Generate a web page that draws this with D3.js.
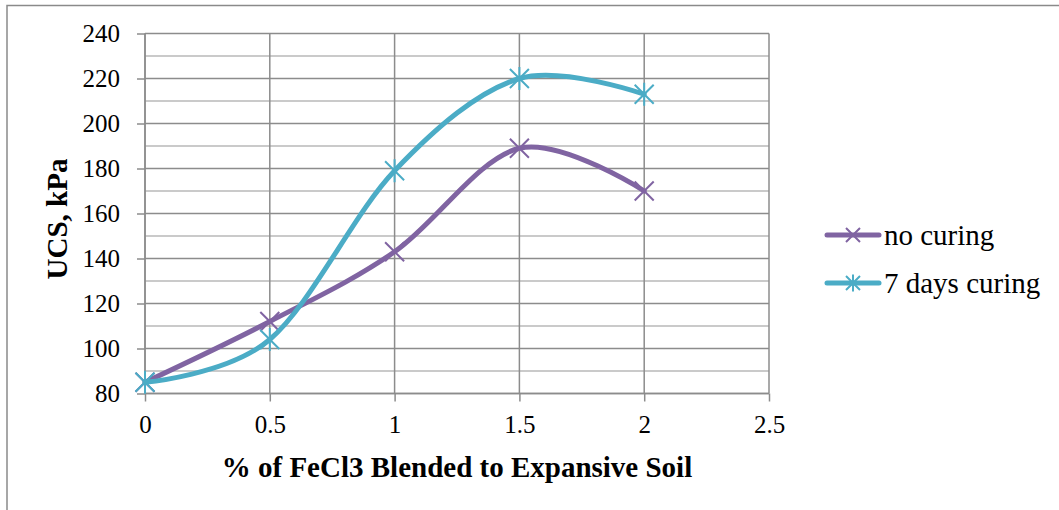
<!DOCTYPE html>
<html>
<head>
<meta charset="utf-8">
<script src="https://cdn.jsdelivr.net/npm/d3@7"></script>
<style>
  html, body { margin: 0; padding: 0; background: #fff; }
  svg { display: block; font-family: "Liberation Serif", "Times New Roman", serif; }
</style>
</head>
<body>
<svg id="chart" width="1059" height="510"></svg>
<script>
// FeCl3 content (%) and unconfined compressive strength (kPa)
const fecl3 = [0, 0.5, 1, 1.5, 2];
const noCuring = [85, 112, 143, 189, 170];
const sevenDays = [85, 104, 179, 220, 213];
const seriesNames = ["no curing", "7 days curing"];
const seriesColors = ["#8064A2", "#4BACC6"];
const xTicks = [0, 0.5, 1, 1.5, 2, 2.5];
const yTicks = [80, 100, 120, 140, 160, 180, 200, 220, 240];
const yMinor = [90, 110, 130, 150, 170, 190, 210, 230];

const serif = "'Liberation Serif', 'Times New Roman', serif";
const svg = d3.select("#chart");
const x = d3.scaleLinear().domain([0, 2.5]).range([145, 769]);
const y = d3.scaleLinear().domain([80, 240]).range([393.5, 33.5]);

// outer chart frame (left and top edges)
svg.append("path")
  .attr("d", "M7,512 L7,5.5 L1062,5.5")
  .attr("fill", "none").attr("stroke", "#8a8a8a").attr("stroke-width", 1.5);

// minor horizontal gridlines
svg.append("g").selectAll("line").data(yMinor).join("line")
  .attr("x1", x(0)).attr("x2", x(2.5))
  .attr("y1", d => y(d)).attr("y2", d => y(d))
  .attr("stroke", "#b8b8b8").attr("stroke-width", 1.5);

// major horizontal gridlines
svg.append("g").selectAll("line").data(yTicks).join("line")
  .attr("x1", x(0)).attr("x2", x(2.5))
  .attr("y1", d => y(d)).attr("y2", d => y(d))
  .attr("stroke", "#8c8c8c").attr("stroke-width", 1.5);

// vertical gridlines
svg.append("g").selectAll("line").data(xTicks).join("line")
  .attr("x1", d => x(d)).attr("x2", d => x(d))
  .attr("y1", y(240)).attr("y2", y(80))
  .attr("stroke", "#8c8c8c").attr("stroke-width", 1.5);

// axes
const yAxis = d3.axisLeft(y).tickValues(yTicks).tickSize(8).tickPadding(17).tickFormat(d3.format("d"));
const xAxis = d3.axisBottom(x).tickValues(xTicks).tickSize(8).tickPadding(14).tickFormat(d => String(d));

const gy = svg.append("g").attr("transform", `translate(${x(0)},0)`).call(yAxis);
const gx = svg.append("g").attr("transform", `translate(0,${y(80)})`).call(xAxis);
[gy, gx].forEach(g => {
  g.attr("font-family", serif).attr("font-size", 25);
  g.select(".domain").attr("stroke", "#8c8c8c").attr("stroke-width", 1.5);
  g.selectAll(".tick line").attr("stroke", "#8c8c8c").attr("stroke-width", 1.5);
  g.selectAll(".tick text").attr("fill", "#000");
});
gx.select(".domain").attr("d", `M${x(0)},0H${x(2.5)}`);
gy.select(".domain").attr("d", `M0,${y(80)}V${y(240)}`);

// axis titles
svg.append("text")
  .attr("transform", "translate(67,219) rotate(-90)")
  .attr("text-anchor", "middle")
  .attr("font-family", serif)
  .style("font-size", "29px").style("font-weight", "bold")
  .text("UCS, kPa");

svg.append("text")
  .attr("x", 457).attr("y", 477)
  .attr("text-anchor", "middle")
  .attr("font-family", serif)
  .style("font-size", "29px").style("font-weight", "bold")
  .text("% of FeCl3 Blended to Expansive Soil");

// smoothed series lines with markers
const line = d3.line()
  .x(d => x(d[0])).y(d => y(d[1]))
  .curve(d3.curveCatmullRom.alpha(0));

function drawMarker(g, cx, cy, r, star, color) {
  let p = `M${cx - r},${cy - r}L${cx + r},${cy + r}M${cx - r},${cy + r}L${cx + r},${cy - r}`;
  if (star) p += `M${cx},${cy - r * 1.2}L${cx},${cy + r * 1.2}`;
  g.append("path").attr("d", p)
    .attr("stroke", color).attr("stroke-width", 2).attr("fill", "none");
}

const allSeries = [noCuring, sevenDays];
allSeries.forEach((vals, i) => {
  const pts = fecl3.map((f, k) => [f, vals[k]]);
  const g = svg.append("g");
  g.append("path").datum(pts).attr("d", line)
    .attr("fill", "none").attr("stroke", seriesColors[i])
    .attr("stroke-width", 5).attr("stroke-linecap", "round");
  pts.forEach(p => drawMarker(g, x(p[0]), y(p[1]), 9.5, i === 1, seriesColors[i]));
});

// legend
const legend = svg.append("g");
seriesNames.forEach((name, i) => {
  const ly = 235 + i * 48;
  legend.append("line")
    .attr("x1", 827).attr("x2", 879).attr("y1", ly).attr("y2", ly)
    .attr("stroke", seriesColors[i]).attr("stroke-width", 5).attr("stroke-linecap", "round");
  drawMarker(legend, 853, ly, 7, i === 1, seriesColors[i]);
  legend.append("text")
    .attr("x", 884).attr("y", ly + 10)
    .attr("font-family", serif)
    .style("font-size", "29px")
    .text(name);
});
</script>
</body>
</html>
